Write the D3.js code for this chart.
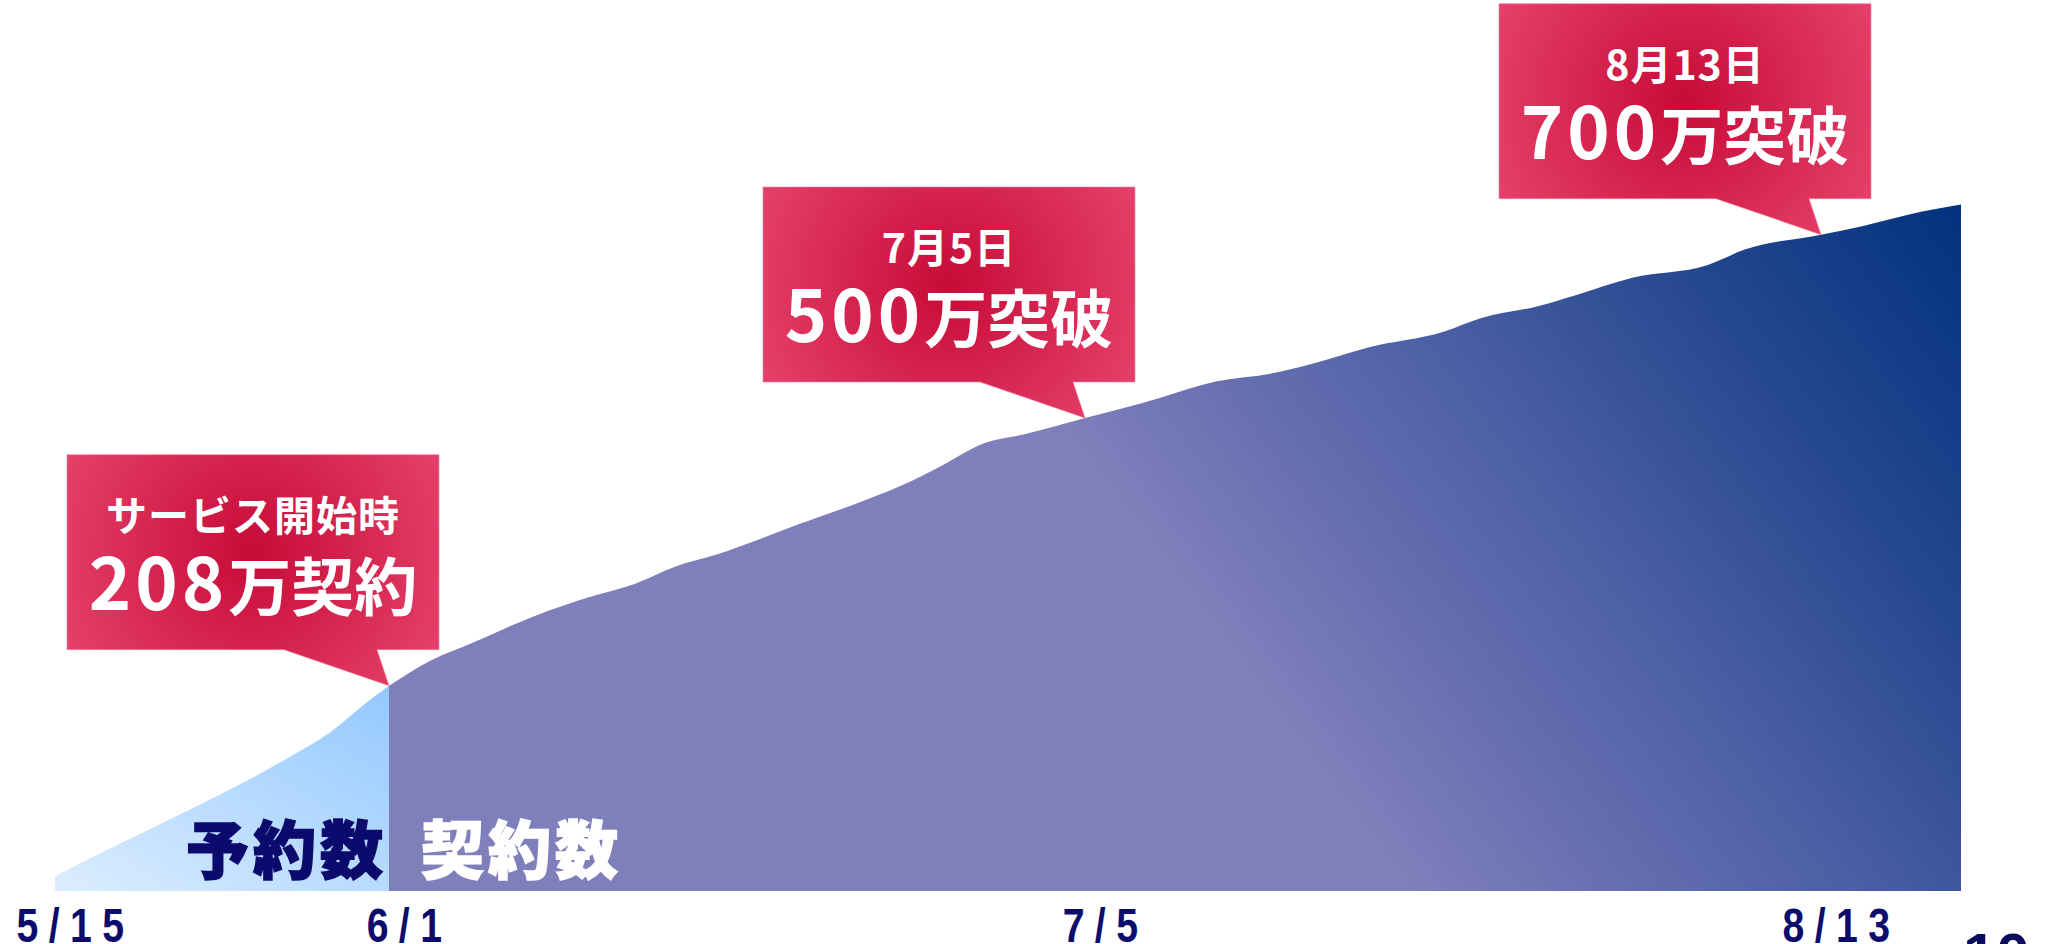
<!DOCTYPE html>
<html lang="ja">
<head>
<meta charset="utf-8">
<script src="https://cdn.jsdelivr.net/npm/d3@7"></script>
<style>
  html, body { margin: 0; padding: 0; background: #ffffff; overflow: hidden; }
  svg { display: block; }
</style>
</head>
<body>
<svg id="chart" width="2051" height="944"></svg>
<script>
// 予約数 (reservations before launch), 万件
const reserveDates  = ["2021-05-15","2021-05-17","2021-05-19","2021-05-21","2021-05-23",
                       "2021-05-25","2021-05-27","2021-05-29","2021-05-31","2021-06-01"];
const reserveValues = [0, 22, 43, 64, 85, 107, 131, 157, 192, 208];

// 契約数 (contracts after launch), 万件
const contractDates  = ["2021-06-01","2021-06-03","2021-06-05","2021-06-08","2021-06-11",
                        "2021-06-13","2021-06-15","2021-06-17","2021-06-19","2021-06-21",
                        "2021-06-22","2021-06-24","2021-06-26","2021-06-28","2021-06-30",
                        "2021-07-02","2021-07-05","2021-07-08","2021-07-12","2021-07-15",
                        "2021-07-17","2021-07-20","2021-07-24","2021-07-26","2021-07-29",
                        "2021-07-31","2021-08-03","2021-08-07","2021-08-09","2021-08-13",
                        "2021-08-15","2021-08-18","2021-08-20"];
const contractValues = [208, 235, 254, 283, 306, 319, 338, 351, 367, 384,
                        392, 408, 426, 448, 472, 482, 500, 516, 540, 549,
                        559, 577, 594, 609, 622, 634, 653, 667, 684, 700,
                        709, 725, 733];

// milestone callouts
const milestoneDates   = ["2021-06-01", "2021-07-05", "2021-08-13"];
const milestoneValues  = [208, 500, 700];
const milestoneHeads   = ["サービス開始時", "7月5日", "8月13日"];
const milestoneSuffix  = ["万契約", "万突破", "万突破"];

// x-axis ticks
const tickDates  = ["2021-05-15", "2021-06-01", "2021-07-05", "2021-08-13"];
const tickLabels = ["5/15", "6/1", "7/5", "8/13"];

// series names written inside the areas
const seriesNames = ["予約数", "契約数"];

const pageNumber = "10";

// ---------------------------------------------------------------------------
const parse = d3.timeParse("%Y-%m-%d");
const reserve  = reserveDates.map((d, i) => ({ date: parse(d), value: reserveValues[i] }));
const contract = contractDates.map((d, i) => ({ date: parse(d), value: contractValues[i] }));
const milestones = milestoneDates.map((d, i) => ({
  date: parse(d), value: milestoneValues[i], head: milestoneHeads[i], suffix: milestoneSuffix[i]
}));

const svg  = d3.select("#chart");
const defs = svg.append("defs");

// piecewise time scale: one stop per tick date, plus the last day of data
const x = d3.scaleTime()
  .domain([...tickDates, contractDates[contractDates.length - 1]].map(parse))
  .range([55, 389, 1085, 1821, 1961]);

// the area floor sits a little below zero
const y = d3.scaleLinear().domain([-16, 740]).range([891, 198]);
const baseY = y(y.domain()[0]);

// ---- fills ----
const gReserve = defs.append("linearGradient")
  .attr("id", "reserveFill").attr("x1", 0).attr("y1", 1).attr("x2", 1).attr("y2", 0);
gReserve.append("stop").attr("offset", 0).attr("stop-color", "#dcedff");
gReserve.append("stop").attr("offset", 1).attr("stop-color", "#94c8ff");

// contracts: angled linear ramp ending in the top-right corner
const endX = x.range()[4], endY = y(contractValues[contractValues.length - 1]);
const ramp = 847, ux = 0.8, uy = -0.6;
const gContract = defs.append("linearGradient")
  .attr("id", "contractFill")
  .attr("gradientUnits", "userSpaceOnUse")
  .attr("x1", endX - ramp * ux).attr("y1", endY - ramp * uy)
  .attr("x2", endX).attr("y2", endY);
[[0, "#7f7fbb"], [0.15, "#6c72b2"], [0.4, "#4d60a6"], [0.7, "#25478f"], [1, "#02327e"]]
  .forEach(([o, c]) => gContract.append("stop").attr("offset", o).attr("stop-color", c));

// ---- areas ----
const area = d3.area()
  .x(d => x(d.date))
  .y0(baseY)
  .y1(d => y(d.value))
  .curve(d3.curveMonotoneX);

svg.append("path").datum(reserve).attr("d", area).attr("fill", "url(#reserveFill)");
svg.append("path").datum(contract).attr("d", area).attr("fill", "url(#contractFill)");

// ---- series names ----
const splitX = x(parse(tickDates[1]));
const nameFont = "'Noto Sans CJK JP', 'Noto Sans', sans-serif";
const nameSpacing = 4;
svg.append("text")
  .attr("x", splitX - 6 + nameSpacing).attr("y", 873)
  .attr("text-anchor", "end")
  .attr("font-family", nameFont).attr("font-weight", 900).attr("font-size", 63)
  .attr("letter-spacing", nameSpacing)
  .attr("fill", "#0d0a6e").attr("stroke", "#0d0a6e").attr("stroke-width", 1.5)
  .text(seriesNames[0]);
svg.append("text")
  .attr("x", splitX + 32).attr("y", 873)
  .attr("text-anchor", "start")
  .attr("font-family", nameFont).attr("font-weight", 900).attr("font-size", 63)
  .attr("letter-spacing", nameSpacing)
  .attr("fill", "#ffffff").attr("stroke", "#ffffff").attr("stroke-width", 1.5)
  .text(seriesNames[1]);

// ---- callouts ----
const boxW = 372, boxH = 195, boxDx = -322, tipGap = 36;
const tailL = 105, tailR = 12;
const calloutFont = "'Noto Sans CJK JP', 'Noto Sans', sans-serif";

milestones.forEach((m, i) => {
  const tx = x(m.date), ty = y(m.value);
  const left = tx + boxDx, right = left + boxW;
  const bottom = ty - tipGap, top = bottom - boxH;
  const cx = (left + right) / 2, cy = (top + bottom) / 2;

  const g = defs.append("radialGradient")
    .attr("id", `calloutFill${i}`)
    .attr("gradientUnits", "userSpaceOnUse")
    .attr("cx", cx).attr("cy", cy).attr("r", 212);
  g.append("stop").attr("offset", 0).attr("stop-color", "#c70b37");
  g.append("stop").attr("offset", 1).attr("stop-color", "#e5416a");

  const p = d3.path();
  p.moveTo(left, top);
  p.lineTo(right, top);
  p.lineTo(right, bottom);
  p.lineTo(tx - tailR, bottom);
  p.lineTo(tx, ty);
  p.lineTo(tx - tailL, bottom);
  p.lineTo(left, bottom);
  p.closePath();

  svg.append("path")
    .attr("d", p.toString())
    .attr("fill", `url(#calloutFill${i})`)
    .attr("stroke", "rgba(240,130,160,0.6)")
    .attr("stroke-width", 1);

  svg.append("text")
    .attr("x", cx).attr("y", top + 76)
    .attr("text-anchor", "middle")
    .attr("font-family", calloutFont).attr("font-weight", 700).attr("font-size", 41)
    .attr("letter-spacing", 1)
    .attr("fill", "#ffffff")
    .text(m.head);

  const big = svg.append("text")
    .attr("x", cx).attr("y", top + 155)
    .attr("text-anchor", "middle")
    .attr("font-family", calloutFont).attr("font-weight", 700)
    .attr("fill", "#ffffff");
  big.append("tspan").attr("font-size", 72).attr("letter-spacing", 4).text(String(m.value));
  big.append("tspan").attr("font-size", 63).text(m.suffix);
});

// ---- x axis ----
const axis = d3.axisBottom(x)
  .tickValues(tickDates.map(parse))
  .tickFormat((d, i) => tickLabels[i])
  .tickSize(0);

const gx = svg.append("g").attr("transform", `translate(0,${baseY})`).call(axis);
gx.select(".domain").remove();
gx.selectAll("text")
  .attr("x", 0).attr("y", 51).attr("dy", null)
  .attr("transform", "translate(20,0) scale(0.8,1)")
  .attr("font-family", "'Liberation Sans', sans-serif")
  .attr("font-weight", 700).attr("font-size", 49)
  .attr("letter-spacing", 13)
  .attr("fill", "#0c0c6c");

// ---- page number at the bottom edge ----
svg.append("text")
  .attr("x", 1963).attr("y", 975)
  .attr("font-family", "'Liberation Sans', sans-serif")
  .attr("font-weight", 700).attr("font-size", 60)
  .attr("fill", "#0c0c5e")
  .text(pageNumber);
</script>
</body>
</html>
